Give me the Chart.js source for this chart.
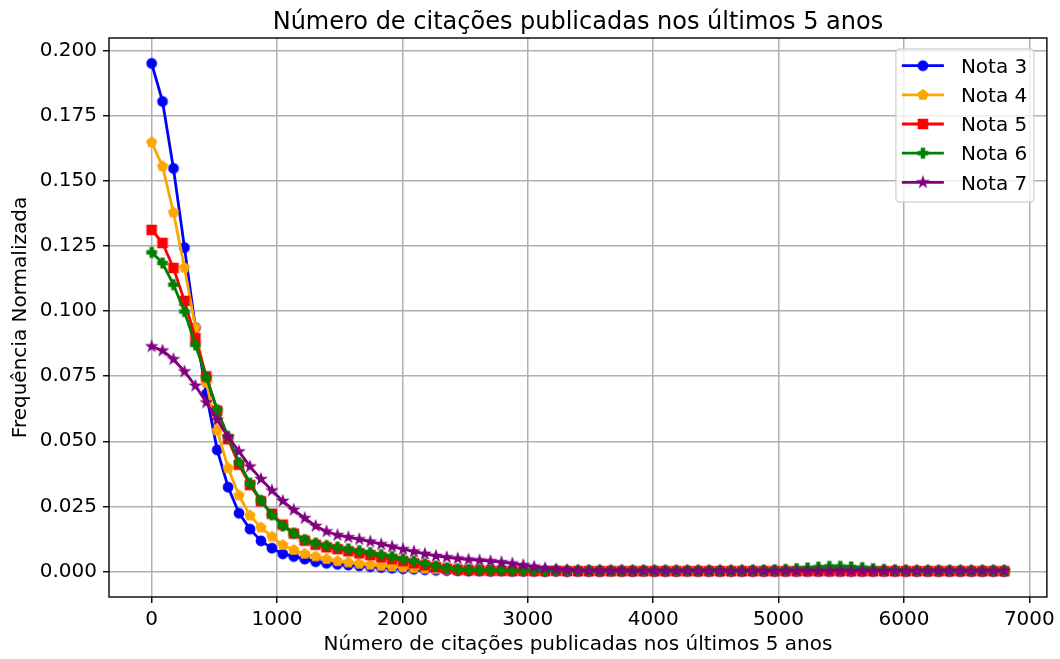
<!DOCTYPE html>
<html>
<head>
<meta charset="utf-8">
<script src="https://cdn.jsdelivr.net/npm/chart.js@4"></script>
<style>
  html, body { margin: 0; padding: 0; background: #ffffff; }
  canvas { display: block; }
</style>
</head>
<body>
<canvas id="chart" width="1060" height="659"></canvas>
<script>
// Bin positions (number of citations) shared by every series
const citacoes = [
  0, 87, 174, 262, 349, 436, 523, 610, 697, 785,
  872, 959, 1046, 1133, 1221, 1308, 1395, 1482, 1569, 1656,
  1744, 1831, 1918, 2005, 2092, 2179, 2267, 2354, 2441, 2528,
  2615, 2703, 2790, 2877, 2964, 3051, 3138, 3226, 3313, 3400,
  3487, 3574, 3662, 3749, 3836, 3923, 4010, 4097, 4185, 4272,
  4359, 4446, 4533, 4621, 4708, 4795, 4882, 4969, 5056, 5144,
  5231, 5318, 5405, 5492, 5579, 5667, 5754, 5841, 5928, 6015,
  6103, 6190, 6277, 6364, 6451, 6538, 6626, 6713, 6800
];

const nota3 = [
  0.1950, 0.1804, 0.1547, 0.1243, 0.0936, 0.0682, 0.0467, 0.0324, 0.0224, 0.0163,
  0.0118, 0.0090, 0.0068, 0.0058, 0.0048, 0.0038, 0.0032, 0.0028, 0.0025, 0.0022,
  0.0019, 0.0016, 0.0013, 0.0011, 0.0009, 0.0007, 0.0005, 0.0004, 0.0003, 0.0002,
  0.0002, 0.0001, 0.0002, 0.0001, 0.0001, 0.0001, 0.0000, 0.0001, 0.0000, 0.0001,
  0.0000, 0.0000, 0.0001, 0.0000, 0.0000, 0.0001, 0.0000, 0.0000, 0.0000, 0.0001,
  0.0000, 0.0000, 0.0000, 0.0000, 0.0000, 0.0000, 0.0000, 0.0000, 0.0000, 0.0000,
  0.0000, 0.0000, 0.0000, 0.0000, 0.0000, 0.0000, 0.0000, 0.0000, 0.0000, 0.0000,
  0.0000, 0.0000, 0.0000, 0.0000, 0.0000, 0.0000, 0.0000, 0.0000, 0.0000
];

const nota4 = [
  0.1647, 0.1555, 0.1378, 0.1166, 0.0937, 0.0724, 0.0541, 0.0397, 0.0292, 0.0215,
  0.0169, 0.0134, 0.0102, 0.0083, 0.0068, 0.0058, 0.0048, 0.0040, 0.0035, 0.0030,
  0.0026, 0.0022, 0.0019, 0.0016, 0.0013, 0.0011, 0.0009, 0.0008, 0.0007, 0.0006,
  0.0005, 0.0004, 0.0004, 0.0003, 0.0003, 0.0002, 0.0003, 0.0002, 0.0002, 0.0002,
  0.0001, 0.0002, 0.0001, 0.0001, 0.0002, 0.0001, 0.0001, 0.0001, 0.0001, 0.0001,
  0.0001, 0.0001, 0.0001, 0.0001, 0.0001, 0.0001, 0.0001, 0.0001, 0.0001, 0.0001,
  0.0001, 0.0001, 0.0001, 0.0001, 0.0001, 0.0001, 0.0001, 0.0001, 0.0001, 0.0001,
  0.0001, 0.0001, 0.0001, 0.0001, 0.0001, 0.0001, 0.0001, 0.0001, 0.0001
];

const nota5 = [
  0.1311, 0.1261, 0.1165, 0.1039, 0.0896, 0.0749, 0.0617, 0.0508, 0.0410, 0.0332,
  0.0270, 0.0222, 0.0180, 0.0146, 0.0119, 0.0103, 0.0093, 0.0086, 0.0078, 0.0070,
  0.0063, 0.0055, 0.0048, 0.0040, 0.0032, 0.0024, 0.0017, 0.0011, 0.0007, 0.0005,
  0.0004, 0.0003, 0.0003, 0.0002, 0.0003, 0.0002, 0.0002, 0.0003, 0.0002, 0.0002,
  0.0002, 0.0002, 0.0002, 0.0002, 0.0002, 0.0002, 0.0002, 0.0002, 0.0002, 0.0002,
  0.0002, 0.0002, 0.0002, 0.0002, 0.0002, 0.0002, 0.0002, 0.0002, 0.0002, 0.0002,
  0.0002, 0.0002, 0.0002, 0.0002, 0.0002, 0.0002, 0.0002, 0.0002, 0.0002, 0.0002,
  0.0002, 0.0002, 0.0002, 0.0002, 0.0002, 0.0002, 0.0002, 0.0002, 0.0002
];

const nota6 = [
  0.1225, 0.1184, 0.1101, 0.0998, 0.0870, 0.0746, 0.0621, 0.0518, 0.0418, 0.0339,
  0.0273, 0.0218, 0.0175, 0.0147, 0.0122, 0.0109, 0.0100, 0.0094, 0.0087, 0.0080,
  0.0073, 0.0065, 0.0058, 0.0049, 0.0040, 0.0031, 0.0021, 0.0014, 0.0010, 0.0008,
  0.0007, 0.0006, 0.0006, 0.0005, 0.0005, 0.0005, 0.0004, 0.0005, 0.0004, 0.0004,
  0.0005, 0.0004, 0.0004, 0.0004, 0.0004, 0.0004, 0.0004, 0.0004, 0.0004, 0.0004,
  0.0004, 0.0004, 0.0004, 0.0004, 0.0004, 0.0005, 0.0005, 0.0006, 0.0008, 0.0011,
  0.0014, 0.0017, 0.0020, 0.0020, 0.0018, 0.0015, 0.0011, 0.0008, 0.0006, 0.0005,
  0.0004, 0.0004, 0.0004, 0.0004, 0.0004, 0.0004, 0.0004, 0.0004, 0.0004
];

const nota7 = [
  0.0864, 0.0848, 0.0815, 0.0768, 0.0713, 0.0649, 0.0582, 0.0516, 0.0461, 0.0403,
  0.0355, 0.0311, 0.0271, 0.0237, 0.0205, 0.0175, 0.0154, 0.0140, 0.0132, 0.0124,
  0.0115, 0.0105, 0.0096, 0.0086, 0.0077, 0.0068, 0.0060, 0.0055, 0.0050, 0.0046,
  0.0043, 0.0040, 0.0036, 0.0031, 0.0025, 0.0019, 0.0013, 0.0009, 0.0006, 0.0004,
  0.0003, 0.0004, 0.0003, 0.0004, 0.0003, 0.0003, 0.0003, 0.0003, 0.0003, 0.0003,
  0.0003, 0.0003, 0.0003, 0.0003, 0.0003, 0.0003, 0.0003, 0.0003, 0.0003, 0.0003,
  0.0003, 0.0003, 0.0003, 0.0003, 0.0003, 0.0003, 0.0003, 0.0003, 0.0003, 0.0003,
  0.0003, 0.0003, 0.0003, 0.0003, 0.0003, 0.0003, 0.0003, 0.0003, 0.0003
];

const seriesNames = ['Nota 3', 'Nota 4', 'Nota 5', 'Nota 6', 'Nota 7'];
const seriesValues = [nota3, nota4, nota5, nota6, nota7];
const xTickValues = [0, 1000, 2000, 3000, 4000, 5000, 6000, 7000];
const yTickValues = [0, 0.025, 0.05, 0.075, 0.1, 0.125, 0.15, 0.175, 0.2];

const titleText = 'Número de citações publicadas nos últimos 5 anos';
const xLabelText = 'Número de citações publicadas nos últimos 5 anos';
const yLabelText = 'Frequência Normalizada';

// Styling
const seriesColors = ['#0000ff', '#ffa500', '#ff0000', '#008000', '#800080'];
const seriesShapes = ['circle', 'pentagon', 'square', 'plus', 'star'];
const FONT = "'DejaVu Sans', 'Liberation Sans', sans-serif";
const TEXT_SIZE = 20;
const TITLE_SIZE = 24;

// Filled marker sprites (circle, pentagon, square, filled plus, star)
function makeMarker(shape, color) {
  const size = 18;
  const c = document.createElement('canvas');
  c.width = size; c.height = size;
  const g = c.getContext('2d');
  g.translate(size / 2, size / 2);
  g.fillStyle = color;
  g.strokeStyle = color;
  g.lineWidth = 1.2;
  g.lineJoin = 'miter';
  g.beginPath();
  if (shape === 'circle') {
    g.arc(0, 0, 4.8, 0, Math.PI * 2);
  } else if (shape === 'square') {
    g.rect(-4.7, -4.7, 9.4, 9.4);
  } else if (shape === 'pentagon') {
    for (let k = 0; k < 5; k++) {
      const ang = -Math.PI / 2 + k * 2 * Math.PI / 5;
      const px = 5.2 * Math.cos(ang), py = 5.2 * Math.sin(ang);
      if (k === 0) g.moveTo(px, py); else g.lineTo(px, py);
    }
  } else if (shape === 'plus') {
    const a = 4.8, b = 1.65;
    const pts = [[-b, -a], [b, -a], [b, -b], [a, -b], [a, b], [b, b],
                 [b, a], [-b, a], [-b, b], [-a, b], [-a, -b], [-b, -b]];
    pts.forEach((p, k) => k === 0 ? g.moveTo(p[0], p[1]) : g.lineTo(p[0], p[1]));
  } else if (shape === 'star') {
    for (let k = 0; k < 10; k++) {
      const r = k % 2 === 0 ? 5.4 : 2.1;
      const ang = -Math.PI / 2 + k * Math.PI / 5;
      const px = r * Math.cos(ang), py = r * Math.sin(ang);
      if (k === 0) g.moveTo(px, py); else g.lineTo(px, py);
    }
  }
  g.closePath();
  g.fill();
  g.stroke();
  return c;
}

const markerSprites = seriesShapes.map((s, i) => makeMarker(s, seriesColors[i]));

// Frame, title and legend drawn on top of the plot area
const decorPlugin = {
  id: 'decor',
  afterDatasetsDraw(chart) {
    const { ctx, chartArea: a } = chart;
    ctx.save();
    ctx.strokeStyle = '#000000';
    ctx.lineWidth = 1.4;
    ctx.strokeRect(a.left, a.top, a.right - a.left, a.bottom - a.top);
    ctx.restore();
  },
  afterDraw(chart) {
    const { ctx, chartArea: a } = chart;
    ctx.save();
    // title
    ctx.fillStyle = '#000000';
    ctx.font = TITLE_SIZE + 'px ' + FONT;
    ctx.textAlign = 'center';
    ctx.textBaseline = 'alphabetic';
    ctx.fillText(titleText, (a.left + a.right) / 2, a.top - 8.8);

    // legend
    const bx = a.right - 151, by = a.top + 11, bw = 138, bh = 153, rad = 4;
    ctx.beginPath();
    ctx.moveTo(bx + rad, by);
    ctx.lineTo(bx + bw - rad, by);
    ctx.quadraticCurveTo(bx + bw, by, bx + bw, by + rad);
    ctx.lineTo(bx + bw, by + bh - rad);
    ctx.quadraticCurveTo(bx + bw, by + bh, bx + bw - rad, by + bh);
    ctx.lineTo(bx + rad, by + bh);
    ctx.quadraticCurveTo(bx, by + bh, bx, by + bh - rad);
    ctx.lineTo(bx, by + rad);
    ctx.quadraticCurveTo(bx, by, bx + rad, by);
    ctx.closePath();
    ctx.fillStyle = 'rgba(255,255,255,0.8)';
    ctx.fill();
    ctx.strokeStyle = 'rgba(204,204,204,0.8)';
    ctx.lineWidth = 1.4;
    ctx.stroke();

    ctx.font = TEXT_SIZE + 'px ' + FONT;
    ctx.textAlign = 'left';
    ctx.textBaseline = 'alphabetic';
    seriesNames.forEach((name, i) => {
      const cy = by + 16.7 + i * 29.15;
      ctx.strokeStyle = seriesColors[i];
      ctx.lineWidth = 2.8;
      ctx.beginPath();
      ctx.moveTo(bx + 6, cy);
      ctx.lineTo(bx + 48, cy);
      ctx.stroke();
      const m = markerSprites[i];
      ctx.drawImage(m, bx + 27 - m.width / 2, cy - m.height / 2);
      ctx.fillStyle = '#000000';
      ctx.fillText(name, bx + 65, cy + 7.3);
    });
    ctx.restore();
  }
};

new Chart(document.getElementById('chart'), {
  type: 'line',
  data: {
    datasets: seriesValues.map((vals, i) => ({
      label: seriesNames[i],
      data: citacoes.map((x, j) => ({ x: x, y: vals[j] })),
      borderColor: seriesColors[i],
      backgroundColor: seriesColors[i],
      borderWidth: 2.8,
      borderJoinStyle: 'round',
      pointStyle: markerSprites[i],
      pointRadius: 5,
      pointHoverRadius: 5,
      tension: 0,
      fill: false,
      order: seriesNames.length - i
    }))
  },
  options: {
    responsive: false,
    animation: false,
    devicePixelRatio: 1,
    layout: { padding: { top: 38, right: 12, left: 0, bottom: 0 } },
    plugins: {
      legend: { display: false },
      title: { display: false },
      tooltip: { enabled: false }
    },
    scales: {
      x: {
        type: 'linear',
        min: -340,
        max: 7140,
        afterBuildTicks: (scale) => { scale.ticks = xTickValues.map(v => ({ value: v })); },
        afterFit: (scale) => { scale.height = 62; },
        border: { display: false },
        grid: {
          color: '#b0b0b0',
          lineWidth: 1.5,
          tickColor: '#000000',
          tickLength: 6,
          tickWidth: 1.4
        },
        ticks: {
          autoSkip: false,
          maxRotation: 0,
          padding: 5,
          color: '#000000',
          font: { family: FONT, size: TEXT_SIZE },
          callback: (v) => String(v)
        },
        title: {
          display: true,
          text: xLabelText,
          color: '#000000',
          font: { family: FONT, size: TEXT_SIZE },
          padding: { top: 0, bottom: 2 }
        }
      },
      y: {
        type: 'linear',
        min: -0.00975,
        max: 0.20475,
        afterBuildTicks: (scale) => { scale.ticks = yTickValues.map(v => ({ value: v })); },
        afterFit: (scale) => { scale.width = 109; },
        border: { display: false },
        grid: {
          color: '#b0b0b0',
          lineWidth: 1.5,
          tickColor: '#000000',
          tickLength: 6,
          tickWidth: 1.4
        },
        ticks: {
          autoSkip: false,
          padding: 6,
          color: '#000000',
          font: { family: FONT, size: TEXT_SIZE },
          callback: (v) => Number(v).toFixed(3)
        },
        title: {
          display: true,
          text: yLabelText,
          color: '#000000',
          font: { family: FONT, size: TEXT_SIZE },
          padding: { top: 9, bottom: 0 }
        }
      }
    }
  },
  plugins: [decorPlugin]
});
</script>
</body>
</html>
